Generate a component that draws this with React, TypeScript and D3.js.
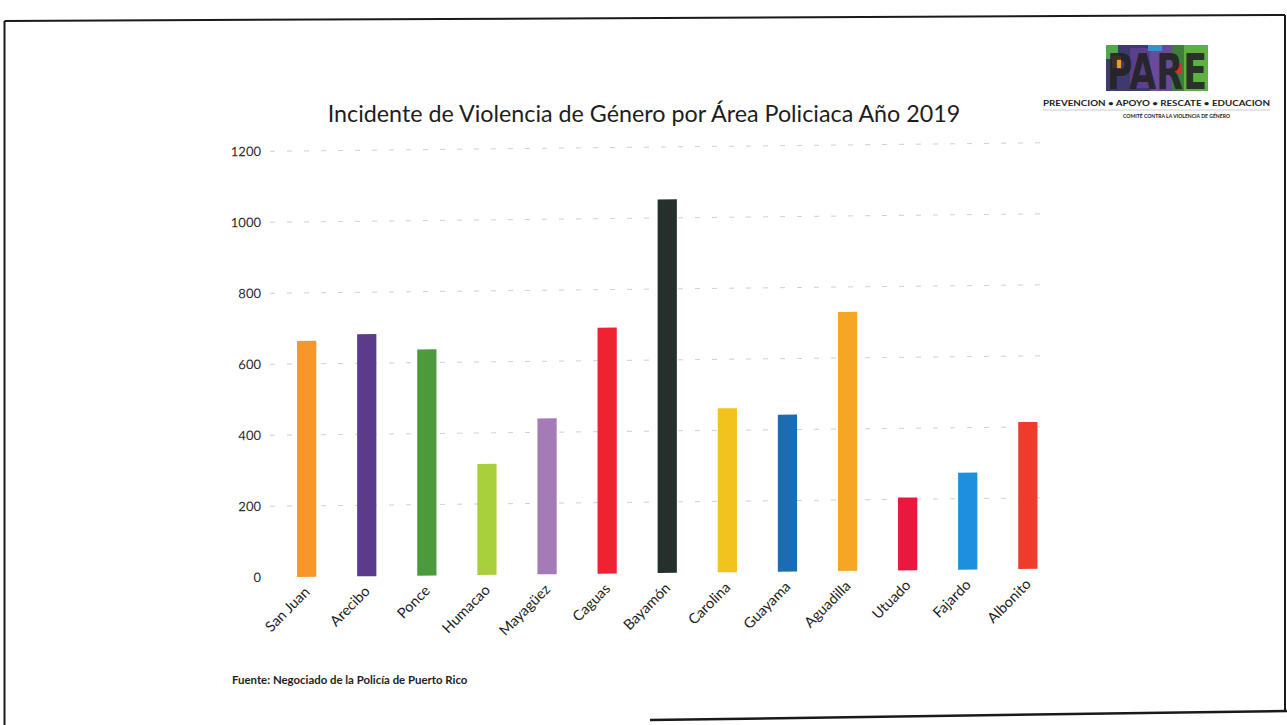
import React from "react";
import * as d3 from "d3";

const categories = ["San Juan", "Arecibo", "Ponce", "Humacao", "Mayagüez", "Caguas", "Bayamón", "Carolina", "Guayama", "Aguadilla", "Utuado", "Fajardo", "Albonito"];
const incidents = [665, 682, 637, 313, 439, 693, 1052, 462, 442, 730, 205, 273, 414];
const barColors = ["#f7962a", "#5c3b8a", "#4c9a3e", "#a8cf3c", "#a57ab9", "#ee2231", "#252f2c", "#f2c31f", "#1c6cb3", "#f6a625", "#e8183f", "#1e8fdc", "#ee3b2b"];
const yTicks = [0, 200, 400, 600, 800, 1000, 1200];
const title = "Incidente de Violencia de Género por Área Policiaca Año 2019";
const source = "Fuente: Negociado de la Policía de Puerto Rico";
const logoTagline = "PREVENCION  •  APOYO  •  RESCATE  •  EDUCACION";
const logoSub = "COMITÉ CONTRA LA VIOLENCIA DE GÉNERO";

const W = 1287;
const H = 725;
const FONT = "Lato, 'Open Sans', sans-serif";

export default function App() {
  const x = d3.scaleBand<string>().domain(categories).range([276.6, 1057.9]).paddingInner(0.68).paddingOuter(0.34);
  const y = d3.scaleLinear().domain([0, 1200]).range([577, 151]);
  const bw = x.bandwidth();

  return (
    <svg width={W} height={H} style={{ position: "absolute", left: 0, top: 0, background: "#fff" }} fontFamily={FONT}>
      <rect x={0} y={0} width={W} height={H} fill="#fff" />
      {/* page frame */}
      <g stroke="#1a1a1a" fill="none">
        <line x1={4.5} y1={21} x2={1285} y2={15} strokeWidth={2} />
        <line x1={4.5} y1={21} x2={4.5} y2={725} strokeWidth={2} />
        <line x1={1285} y1={15} x2={1285} y2={712} strokeWidth={2} />
        <line x1={650} y1={720} x2={1287} y2={711} strokeWidth={2.5} />
      </g>

      {/* logo */}
      <g>
        <rect x={1106} y={45} width={102} height={46} fill="#3f3a6e" />
        <rect x={1106} y={45} width={12} height={14} fill="#4fa84a" />
        <rect x={1112} y={56} width={9} height={12} fill="#f29b2b" />
        <rect x={1130} y={48} width={20} height={40} fill="#5a3f8c" />
        <rect x={1150} y={45} width={22} height={46} fill="#6a4a9a" />
        <rect x={1172} y={45} width={12} height={46} fill="#3e7d3a" />
        <rect x={1184} y={45} width={24} height={46} fill="#5fb043" />
        <rect x={1176} y={64} width={6} height={10} fill="#d9302e" />
        <rect x={1148} y={45} width={14} height={6} fill="#3a8fd0" />
        <text x={1157} y={89} textAnchor="middle" fontFamily="'DejaVu Sans', sans-serif" fontWeight={900} fontSize={50} fill="#222" fillOpacity={0.9} textLength={100} lengthAdjust="spacingAndGlyphs">PARE</text>
        <text x={1043} y={106} fontSize={7} fontWeight={700} fill="#222" textLength={227} lengthAdjust="spacingAndGlyphs">{logoTagline}</text>
        <line x1={1043} y1={110} x2={1270} y2={110} stroke="#aaa" strokeWidth={0.6} />
        <text x={1123} y={118} fontSize={6} fontWeight={700} fill="#222" textLength={107} lengthAdjust="spacingAndGlyphs">{logoSub}</text>
      </g>

      {/* title */}
      <text x={644} y={122} textAnchor="middle" fontSize={23.3} fill="#1e1e1e">{title}</text>

      {/* chart body, slightly skewed like the scan */}
      <g transform="translate(297,0) skewY(-0.63) translate(-297,0)">
        {yTicks.filter(t => t > 0).map(t => (
          <line key={"g" + t} x1={270} x2={1050} y1={y(t)} y2={y(t)} stroke="#c4c4c4" strokeWidth={0.8} strokeDasharray="5 12" />
        ))}
        {yTicks.map(t => (
          <text key={"t" + t} x={261} y={y(t)} dy="0.35em" textAnchor="end" fontSize={13} fill="#2a2a2a">{t}</text>
        ))}
        {categories.map((c, i) => (
          <rect key={c} x={x(c)} y={y(incidents[i])} width={bw} height={y(0) - y(incidents[i])} fill={barColors[i]} />
        ))}
        {categories.map(c => (
          <text key={"l" + c} transform={`translate(${(x(c) as number) + bw / 2 + 4},${y(0) + 16}) rotate(-45)`} textAnchor="end" fontSize={14.5} fill="#1e1e1e">{c}</text>
        ))}
      </g>

      {/* source */}
      <text x={232} y={684} fontSize={11.4} fontWeight={700} fill="#1e1e1e">{source}</text>
    </svg>
  );
}
